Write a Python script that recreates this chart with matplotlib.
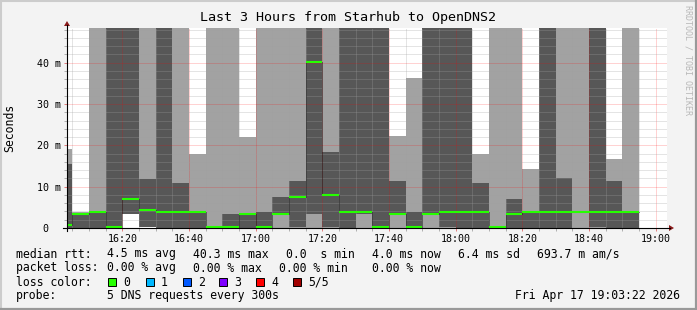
import matplotlib
matplotlib.use('Agg')
import matplotlib.pyplot as plt
from matplotlib.patches import Rectangle, Polygon
from matplotlib.lines import Line2D

plt.rcParams['font.family'] = 'DejaVu Sans Mono'

# 5 minute probe rounds (first one is cut by the window start)
round_start = ['16:03:22', '16:05', '16:10', '16:15', '16:20', '16:25', '16:30',
               '16:35', '16:40', '16:45', '16:50', '16:55', '17:00', '17:05',
               '17:10', '17:15', '17:20', '17:25', '17:30', '17:35', '17:40',
               '17:45', '17:50', '17:55', '18:00', '18:05', '18:10', '18:15',
               '18:20', '18:25', '18:30', '18:35', '18:40', '18:45', '18:50']
round_end = '18:55'
window = ('16:03:22', '19:03:22')

# smoke in ms (50 = goes off the top of the graph)
light_lo = [0, 0, 0, 0, 3.4, 0.3, 0, 0, 0, 0, 0, 0, 0, 0, 0, 0, 0, 0,
            0, 0, 0, 0, 0, 0, 0, 0, 0, 0, 0, 0, 0, 0, 0, 0, 0]
light_hi = [19.1, 3.9, 50, 50, 50, 50, 50, 50, 17.9, 50, 50, 22.0, 50, 50, 50, 50, 50, 50,
            50, 50, 22.2, 36.4, 50, 50, 50, 17.9, 50, 50, 14.2, 50, 50, 50, 50, 16.6, 50]
dark_lo = [0, 0, 0, 0, 3.4, 0.3, 0, 0, 0, 0, 0, 0, 0, 3.5, 0.3, 3.5, 0.3, 0,
           3.5, 0, 3.5, 0.3, 3.5, 0.2, 0, 0, 0, 0, 0, 0, 0, 3.9, 0.3, 0, 0]
dark_hi = [15.4, 3.4, 3.9, 50, 50, 11.8, 50, 10.9, 3.9, 0.3, 3.4, 3.6, 3.9, 7.5, 11.3, 50, 18.3, 50,
           50, 50, 11.3, 3.9, 50, 50, 50, 10.9, 0.3, 7.0, 4.2, 50, 12.1, 3.9, 50, 11.3, 3.9]
median = [0.8, 3.5, 3.9, 0.3, 7.0, 4.3, 3.9, 3.9, 3.9, 0.3, 0.15, 3.5, 0.3, 3.5, 7.6, 40.1, 8.0, 3.9,
          3.9, 0.3, 3.5, 0.3, 3.5, 3.9, 3.9, 3.9, 0.3, 3.5, 3.9, 3.9, 3.9, 3.9, 3.9, 3.9, 3.9]

x_major = [20, 40, 60, 80, 100, 120, 140, 160, 180]
x_labels = ['16:20', '16:40', '17:00', '17:20', '17:40', '18:00', '18:20', '18:40', '19:00']
y_major = [0, 10, 20, 30, 40]
y_labels = ['0  ', '10 m', '20 m', '30 m', '40 m']

loss_names = ['0', '1', '2', '3', '4', '5/5']
loss_colors = ['#26ff00', '#00b8ff', '#0059ff', '#7e00ff', '#ff0000', '#a10000']


def to_min(s):
    p = s.split(':')
    v = (int(p[0]) - 16) * 60 + int(p[1])
    if len(p) > 2:
        v += int(p[2]) / 60
    return v


W, H = 697, 310


def px(x, y):
    return (x / W, 1 - y / H)


fig = plt.figure(figsize=(W / 100, H / 100), dpi=100)
fig.patch.set_facecolor('#f3f3f3')
ax = fig.add_axes([67 / W, (H - 228) / H, 600 / W, 200 / H])
ax.set_facecolor('white')

edges = [to_min(s) for s in round_start] + [to_min(round_end)]
t0, t1 = to_min(window[0]), to_min(window[1])
ax.set_xlim(t0, t1)
ax.set_ylim(0, 48.4)

ax.fill_between(edges, light_lo + [light_lo[-1]], light_hi + [light_hi[-1]],
                step='post', color='#a2a2a2', lw=0, zorder=1)
ax.fill_between(edges, dark_lo + [dark_lo[-1]], dark_hi + [dark_hi[-1]],
                step='post', color='#575757', lw=0, zorder=1.1)

# grid
dot = (0, (1, 1))
for m in range(5, 185, 5):
    if m % 20:
        ax.axvline(m, color='#a0a0a0', alpha=0.55, lw=0.72, ls=dot, zorder=2)
for m in x_major:
    ax.axvline(m, color='#ff0000', alpha=0.35, lw=0.72, ls=dot, zorder=2)
for v in range(2, 49, 2):
    if v % 10:
        ax.axhline(v, color='#a0a0a0', alpha=0.55, lw=0.72, ls=dot, zorder=2)
for v in y_major[1:]:
    ax.axhline(v, color='#ff0000', alpha=0.35, lw=0.72, ls=dot, zorder=2)

# median
ax.step(edges, median + [median[-1]], where='post', color='#1a1a1a', lw=0.72, ls=dot, zorder=3)
ax.hlines(median, edges[:-1], edges[1:], color=loss_colors[0], lw=1.5, zorder=4)

ax.set_xticks(x_major, x_labels)
ax.set_xticks(range(5, 185, 5), minor=True)
ax.set_yticks(y_major, y_labels)
ax.set_yticks(range(2, 49, 2), minor=True)
ax.tick_params(which='major', length=2, width=0.72, color='#e08080', labelsize=7.2, pad=2)
ax.tick_params(which='minor', length=2, width=0.72, color='#b0b0b0')
for s in ax.spines.values():
    s.set_visible(False)

# axes with arrows
fig.add_artist(Line2D([63 / W, 670 / W], [1 - 228 / H] * 2, color='black', lw=0.8))
fig.add_artist(Line2D([67 / W] * 2, [1 - 231 / H, 1 - 25 / H], color='black', lw=0.8))
fig.add_artist(Polygon([px(669, 225), px(669, 231), px(674, 228)], closed=True,
                       transform=fig.transFigure, color='#8b1a1a', lw=0))
fig.add_artist(Polygon([px(64, 26), px(70, 26), px(67, 21)], closed=True,
                       transform=fig.transFigure, color='#8b1a1a', lw=0))

# frame
fig.add_artist(Line2D([0, 1], [1 - 1 / H] * 2, color='#cccccc', lw=1.5))
fig.add_artist(Line2D([1 / W] * 2, [0, 1], color='#cccccc', lw=1.5))
fig.add_artist(Line2D([0, 1], [1.2 / H] * 2, color='#999999', lw=1.6))
fig.add_artist(Line2D([1 - 1.2 / W] * 2, [0, 1], color='#999999', lw=1.6))

fig.text(*px(348.5, 18), 'Last 3 Hours from Starhub to OpenDNS2', fontsize=9.6,
         ha='center', va='center')
fig.text(*px(10, 128), 'Seconds', fontsize=8.3, rotation=90, ha='center', va='center')
fig.text(*px(688, 5), 'RRDTOOL / TOBI OETIKER', fontsize=6, rotation=270,
         ha='center', va='top', color='#b8b8b8')

fs = 8.3
rows = [
    (254, [(16, 'median rtt:'), (107, '4.5 ms avg'), (192.7, '40.3 ms max'),
           (286, '0.0  s min'), (372, '4.0 ms now'), (458, '6.4 ms sd'), (537, '693.7 m am/s')]),
    (268, [(16, 'packet loss:'), (107, '0.00 % avg'), (193, '0.00 % max'),
           (279, '0.00 % min'), (372, '0.00 % now')]),
    (282, [(16, 'loss color:')]),
    (296, [(16, 'probe:'), (107, '5 DNS requests every 300s')]),
]
for y, items in rows:
    for x, s in items:
        fig.text(*px(x, y), s, fontsize=fs, ha='left', va='center')
fig.text(*px(680, 296), 'Fri Apr 17 19:03:22 2026', fontsize=fs, ha='right', va='center')

box_x = [108, 146, 183, 219, 256, 293]
for bx, name, c in zip(box_x, loss_names, loss_colors):
    fig.add_artist(Rectangle(px(bx, 286), 8 / W, 8 / H, transform=fig.transFigure,
                             facecolor=c, edgecolor='black', lw=0.7))
    fig.text(*px(bx + 15, 282), name, fontsize=fs, ha='left', va='center')

fig.savefig('out.png', dpi=100, facecolor=fig.get_facecolor())
